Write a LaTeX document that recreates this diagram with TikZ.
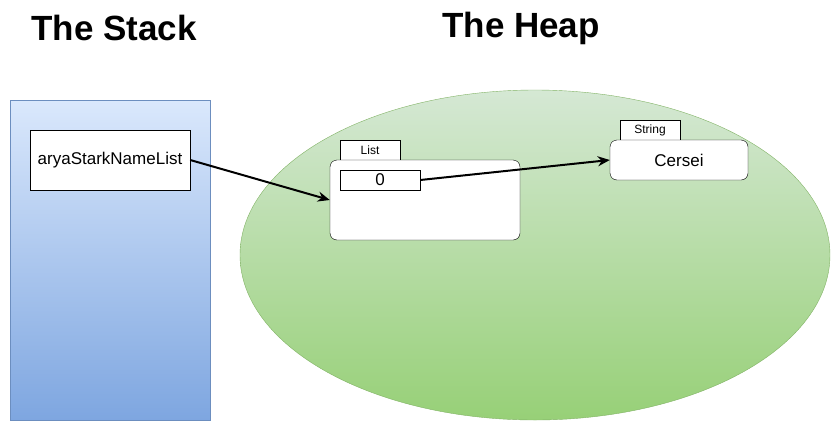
\documentclass[tikz,border=0pt]{standalone}
\usepackage{fontspec}
\setmainfont{Liberation Sans}
\usetikzlibrary{arrows.meta}
\definecolor{stacktop}{HTML}{DAE8FC}
\definecolor{stackbot}{HTML}{7EA6E0}
\definecolor{stackline}{HTML}{6C8EBF}
\definecolor{heaptop}{HTML}{D5E8D4}
\definecolor{heapbot}{HTML}{97D077}
\definecolor{heapline}{HTML}{82B366}
\tikzset{
  objbox/.style={draw,fill=white,rounded corners=7pt,minimum width=#1,inner sep=0pt},
  tabbox/.style={draw,fill=white,minimum width=60pt,minimum height=20pt,inner sep=0pt,font=\fontsize{12}{12}\selectfont},
  ref/.style={-{Stealth[length=12pt,width=10pt]},line width=2pt}
}
\begin{document}
\begin{tikzpicture}[x=1pt,y=-1pt]
\useasboundingbox(0,0)rectangle(831,421);
\node(stacktitle)at(114,28){\fontsize{35}{35}\selectfont\bfseries The Stack};
\node(heaptitle)at(521,28){\fontsize{35}{35}\selectfont\bfseries The Heap};
\draw[stackline,top color=stacktop,bottom color=stackbot](10,100)rectangle(210,420);
\draw[heapline,top color=heaptop,bottom color=heapbot](535,255)ellipse[x radius=295,y radius=165];
\node[draw,fill=white,minimum width=160pt,minimum height=60pt,inner sep=0pt,font=\fontsize{17}{17}\selectfont](aryaref)at(110,160){aryaStarkNameList};
\node[tabbox](listtab)at(370,150){List};
\node[objbox=190pt,minimum height=80pt](listobj)at(425,200){};
\node[draw,fill=white,minimum width=80pt,minimum height=20pt,inner sep=0pt,font=\fontsize{17}{17}\selectfont](elemzero)at(380,180){0};
\node[tabbox](stringtab)at(650,130){String};
\node[objbox=138pt,minimum height=40pt,font=\fontsize{17}{17}\selectfont](cerseiobj)at(679,160){Cersei};
\draw[ref](aryaref.east)--(listobj.west);
\draw[ref](elemzero.east)--(cerseiobj.west);
\end{tikzpicture}
\end{document}
